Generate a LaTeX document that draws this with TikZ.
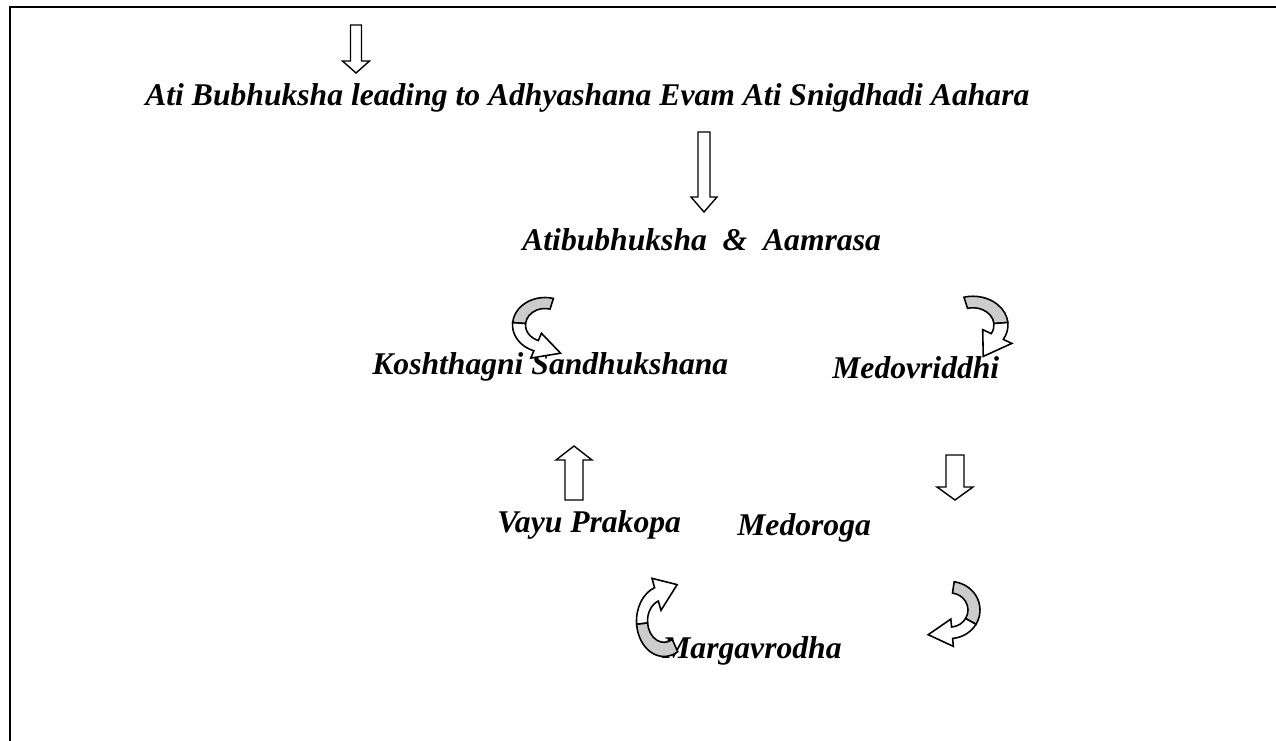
\documentclass[tikz,border=0pt]{standalone}
\usepackage{fontspec}
\setmainfont{Liberation Serif}
\usetikzlibrary{calc}
\tikzset{
flow/.style={x=0.02cm,y=-0.02cm,line join=miter},
term/.style={anchor=base west,inner sep=0pt,
font=\fontsize{18}{21}\selectfont\bfseries\itshape},
hollow/.style={draw,fill=white,line width=0.8pt},
ribbon back/.style={draw,fill=gray!40,line width=0.9pt},
ribbon front/.style={draw,fill=white,line width=0.9pt},
pics/block arrow/.style n args={4}{code={
\draw[hollow] (-#2,0) -- (-#2,#1-#4) -- (-#3,#1-#4) -- (0,#1)
  -- (#3,#1-#4) -- (#2,#1-#4) -- (#2,0) -- cycle;}},
pics/curl/.style n args={3}{code={
\filldraw[ribbon back] (#1:25) arc[start angle=#1,end angle=#2,radius=25]
  -- (#2:15) arc[start angle=#2,end angle=#1,radius=15] -- cycle;
\filldraw[ribbon front] (#2:25) arc[start angle=#2,end angle=#3,radius=25]
  -- (#3:32) -- ($(#3:20)+(#3-90:20)$) -- (#3:8)
  -- (#3:15) arc[start angle=#3,end angle=#2,radius=15] -- cycle;}},
}
\begin{document}
\begin{tikzpicture}[flow]
\useasboundingbox (0,0) rectangle (1276,741);
\draw[line width=1.4pt] (1276,7) -- (10,7) -- (10,741);

\node[term] (title) at (145,105) {Ati Bubhuksha leading to Adhyashana Evam Ati Snigdhadi Aahara};
\node[term] (atib) at (522,250) {Atibubhuksha \ \&\ \ Aamrasa};
\node[term] (kosh) at (372,374) {Koshthagni Sandhukshana};
\node[term] (medo) at (832,378) {Medovriddhi};
\node[term] (vayu) at (497,532) {Vayu Prakopa};
\node[term] (medoroga) at (737,535) {Medoroga};
\node[term] (marga) at (662,658) {Margavrodha};

\pic at (356,25) {block arrow={48}{5.5}{13.5}{12}};
\pic at (704,132) {block arrow={80}{6}{13}{15}};
\pic[rotate=180] at (574,500) {block arrow={54}{9}{18}{14}};
\pic at (955,455) {block arrow={45}{9}{18}{13}};

\pic[xscale=1.3,yscale=1.1] at (545,325) {curl={285}{185}{110}};
\pic[xscale=-1.4,yscale=1.15] at (973,325) {curl={285}{185}{150}};
\pic[xscale=1.1,yscale=-1.42] at (664,621) {curl={300}{185}{110}};
\pic[xscale=-1.2,yscale=1.14] at (950,610) {curl={262}{150}{95}};
\end{tikzpicture}
\end{document}
